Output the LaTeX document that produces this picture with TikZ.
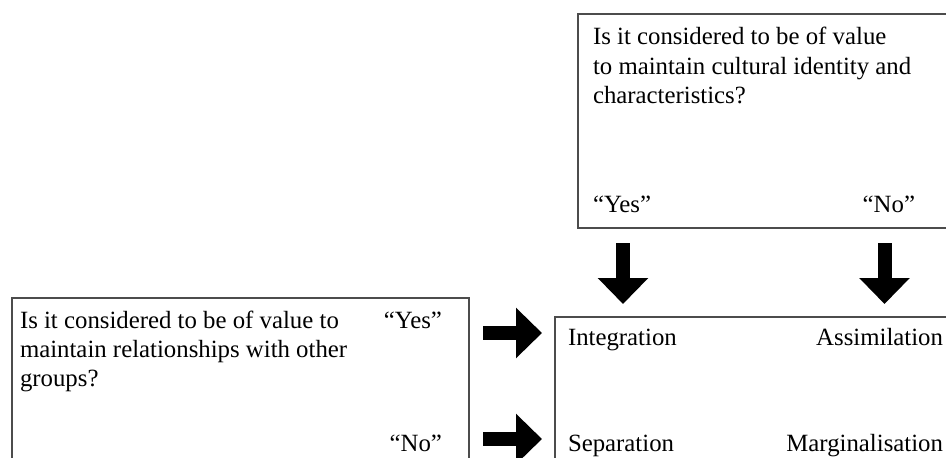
\documentclass[tikz,border=0pt]{standalone}
\usepackage{fontspec}
\setmainfont{Liberation Serif}
\usetikzlibrary{arrows.meta}
\begin{document}
\begin{tikzpicture}[x=0.75pt,y=-0.75pt,
  box/.style={draw=black!70, line width=1.1pt, inner sep=0pt, outer sep=0pt, anchor=north west},
  txt/.style={inner sep=0pt, outer sep=0pt, font=\fontsize{18.6}{22.5}\selectfont},
  bigarrow/.style={line width=10.5pt, -{Triangle[length=19.5pt, width=36.75pt]}}]
\useasboundingbox (0,0) rectangle (946,457);
\clip (0,0) rectangle (946,457);

% boxes (partly cut by the picture's edges)
\node[box, minimum width=286.5pt, minimum height=160.5pt] (topbox) at (578,14) {};
\node[box, minimum width=342.75pt, minimum height=129pt] (leftbox) at (12,298) {};
\node[box, minimum width=303.75pt, minimum height=114.75pt] (resbox) at (555,317) {};

% top box text
\node[txt, anchor=base west] (t1) at (593,44) {Is it considered to be of value};
\node[txt, anchor=base west] (t2) at (593,74) {to maintain cultural identity and};
\node[txt, anchor=base west] (t3) at (593,103) {characteristics?};
\node[txt, anchor=base west] (tyes) at (593,212) {“Yes”};
\node[txt, anchor=base east] (tno) at (915,212) {“No”};

% left box text
\node[txt, anchor=base west] (l1) at (20,328) {Is it considered to be of value to};
\node[txt, anchor=base west] (l2) at (20,357) {maintain relationships with other};
\node[txt, anchor=base west] (l3) at (20,386) {groups?};
\node[txt, anchor=base east] (lyes) at (442,328) {“Yes”};
\node[txt, anchor=base east] (lno) at (442,451) {“No”};

% result box text
\node[txt, anchor=base west] (integ) at (568,345) {Integration};
\node[txt, anchor=base east] (assim) at (943,345) {Assimilation};
\node[txt, anchor=base west] (sep) at (568,451) {Separation};
\node[txt, anchor=base east] (marg) at (943,451) {Marginalisation};

% arrows
\coordinate (d1s) at (623,243);
\coordinate (d1e) at (623,304);
\coordinate (d2s) at (884.5,243);
\coordinate (d2e) at (884.5,304);
\coordinate (r1s) at (483,333);
\coordinate (r1e) at (542,333);
\coordinate (r2s) at (483,439);
\coordinate (r2e) at (542,439);
\draw[bigarrow] (d1s) -- (d1e);
\draw[bigarrow] (d2s) -- (d2e);
\draw[bigarrow] (r1s) -- (r1e);
\draw[bigarrow] (r2s) -- (r2e);
\end{tikzpicture}
\end{document}
